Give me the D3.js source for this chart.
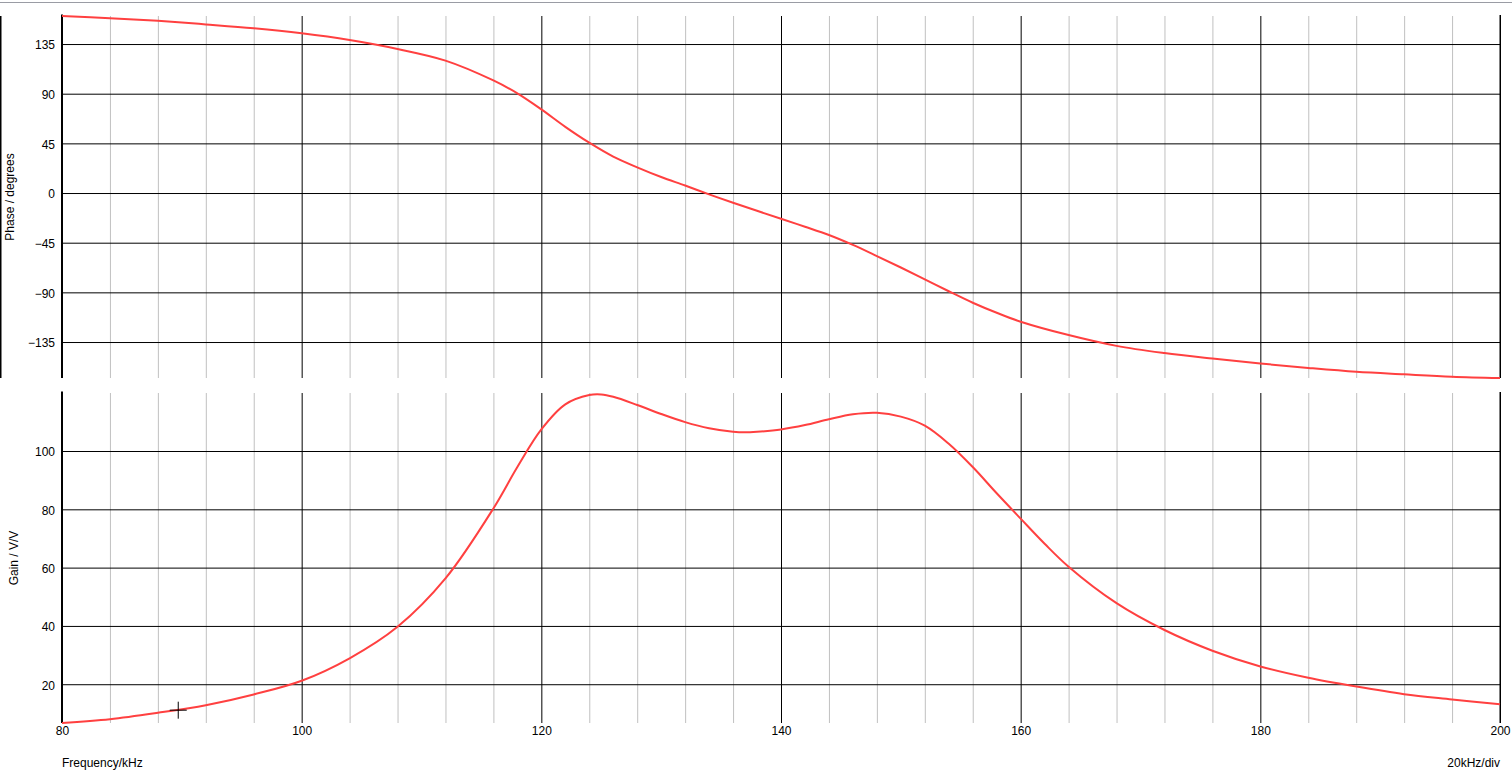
<!DOCTYPE html>
<html><head><meta charset="utf-8">
<script src="https://cdn.jsdelivr.net/npm/d3@7"></script>
<style>
body{margin:0;background:#fff;overflow:hidden;}
svg{display:block;}
text{font-family:"Liberation Sans",Arial,sans-serif;font-size:12px;fill:#000;}
</style>
</head><body>
<svg id="chart" width="1512" height="776"></svg>
<script>
// ---- data ----
const phaseFreq = [80,84,88,92,96,100,104,108,112,116,118,120,122,124,126,128,130,132,134,136,140,142,144,146,148,150,152,154,156,158,160,164,168,172,176,180,184,188,192,196,200];
const phaseDeg  = [160.4,158.4,156,152.8,149.3,144.7,138.6,130.5,120,102,90.3,75.8,60,45.6,33,23.3,14.5,6.8,-1.2,-8.8,-23.3,-30.5,-38,-47,-57.1,-67.5,-78.2,-89,-99.4,-108.5,-116.6,-128.7,-138.5,-145,-150,-154.5,-158.5,-162,-164.3,-166.4,-167.6];
const gainFreq = [80,84,88,92,96,100,104,108,112,116,118,120,122,124,125,126,128,130,132,134,136,137,138,140,142,144,146,148,150,152,154,156,158,160,162,164,168,172,176,180,184,188,192,196,200];
const gainVV   = [6.7,8.0,10.2,12.8,16.5,21.2,28.9,39.7,56.3,80.3,94.5,107.4,116,119.2,119.4,118.6,115.8,112.7,109.9,107.8,106.6,106.4,106.6,107.4,108.9,110.9,112.6,113.1,111.8,108.7,102.5,94.5,85.5,76.8,68.2,60.3,47.8,38.6,31.5,26.1,22.2,19.2,16.6,14.8,13.1];
const phaseTicks = [135,90,45,0,-45,-90,-135];
const gainTicks = [100,80,60,40,20];
const freqLabels = [80,100,120,140,160,180,200];
const freqMajor = [100,120,140,160,180];
const freqMinor = [84,88,92,96,104,108,112,116,124,128,132,136,144,148,152,156,164,168,172,176,184,188,192,196];
const cursorPoint = [89.7, 11.1];
const phaseDomain = [-167.6, 160.4];
const gainDomain = [6.7, 119.9];
const freqDomain = [80, 200];

// ---- layout ----
const svg = d3.select("#chart");
const L = 62, R = 1500;
const top1 = 16, bot1 = 378, top2 = 393, bot2 = 723;
const red = "#ff4040";

const x = d3.scaleLinear().domain(freqDomain).range([L, R]);
const yP = d3.scaleLinear().domain(phaseDomain).range([bot1, top1]);
const yG = d3.scaleLinear().domain(gainDomain).range([bot2, top2]);

// top window line
svg.append("line").attr("x1",0).attr("x2",1512).attr("y1",2.5).attr("y2",2.5)
  .attr("stroke","#9a9ca4").attr("stroke-width",1);
// left frame line of top panel
svg.append("line").attr("x1",0.75).attr("x2",0.75).attr("y1",top1).attr("y2",bot1)
  .attr("stroke","#000").attr("stroke-width",1.5);

function panel(yScale, yTicks, yTop, yBot, xs, ys, label, labelX) {
  const g = svg.append("g");
  // minor vertical grid
  g.append("g").attr("transform",`translate(0,${yBot})`)
    .call(d3.axisBottom(x).tickValues(freqMinor).tickSize(-(yBot-yTop)).tickFormat(""))
    .call(a=>a.select(".domain").remove())
    .call(a=>a.selectAll(".tick line").attr("stroke","#c0c0c0").attr("stroke-width",1));
  // major vertical grid
  g.append("g").attr("transform",`translate(0,${yBot})`)
    .call(d3.axisBottom(x).tickValues(freqMajor).tickSize(-(yBot-yTop)).tickFormat(""))
    .call(a=>a.select(".domain").remove())
    .call(a=>a.selectAll(".tick line").attr("stroke","#000").attr("stroke-width",1));
  // horizontal grid
  g.append("g").attr("transform",`translate(${L},0)`)
    .call(d3.axisLeft(yScale).tickValues(yTicks).tickSize(-(R-L)).tickFormat(""))
    .call(a=>a.select(".domain").remove())
    .call(a=>a.selectAll(".tick line").attr("stroke","#000").attr("stroke-width",1));
  // y tick labels
  g.append("g").attr("transform",`translate(${L},0)`)
    .call(d3.axisLeft(yScale).tickValues(yTicks).tickSize(0).tickPadding(7))
    .call(a=>a.select(".domain").remove())
    .call(a=>a.selectAll("text").attr("font-size",12).attr("font-family","Liberation Sans, Arial, sans-serif").attr("dy","0.4em"));
  // frame lines
  g.append("line").attr("x1",L).attr("x2",L).attr("y1",yTop-1.5).attr("y2",yBot)
    .attr("stroke","#000").attr("stroke-width",2);
  g.append("line").attr("x1",R+0.25).attr("x2",R+0.25).attr("y1",yTop-1).attr("y2",yBot)
    .attr("stroke","#000").attr("stroke-width",1.5);
  // curve
  const line = d3.line().x((d,i)=>x(xs[i])).y((d,i)=>yScale(ys[i])).curve(d3.curveCatmullRom.alpha(0.5));
  g.append("path").datum(xs).attr("d",line).attr("fill","none")
    .attr("stroke",red).attr("stroke-width",2);
  // y label
  g.append("text").attr("transform",`translate(${labelX},${(yTop+yBot)/2}) rotate(-90)`)
    .attr("text-anchor","middle").text(label);
  return g;
}

panel(yP, phaseTicks, top1, bot1, phaseFreq, phaseDeg, "Phase / degrees", 14);
panel(yG, gainTicks, top2, bot2, gainFreq, gainVV, "Gain / V/V", 18);

// x tick labels
svg.append("g").attr("transform",`translate(0,${bot2})`)
  .call(d3.axisBottom(x).tickValues(freqLabels).tickSize(0).tickPadding(3.5).tickFormat(d3.format("d")))
  .call(a=>a.select(".domain").remove())
  .call(a=>a.selectAll("text").attr("font-size",12).attr("font-family","Liberation Sans, Arial, sans-serif"));

svg.append("text").attr("x",L).attr("y",767).text("Frequency/kHz");
svg.append("text").attr("x",R).attr("y",767).attr("text-anchor","end").text("20kHz/div");

// cursor crosshair
const cx = x(cursorPoint[0]), cy = yG(cursorPoint[1]);
svg.append("line").attr("x1",cx-8.5).attr("x2",cx+8.5).attr("y1",cy).attr("y2",cy).attr("stroke","#000").attr("stroke-width",1);
svg.append("line").attr("x1",cx).attr("x2",cx).attr("y1",cy-8.5).attr("y2",cy+8.5).attr("stroke","#000").attr("stroke-width",1);
</script>
</body></html>
